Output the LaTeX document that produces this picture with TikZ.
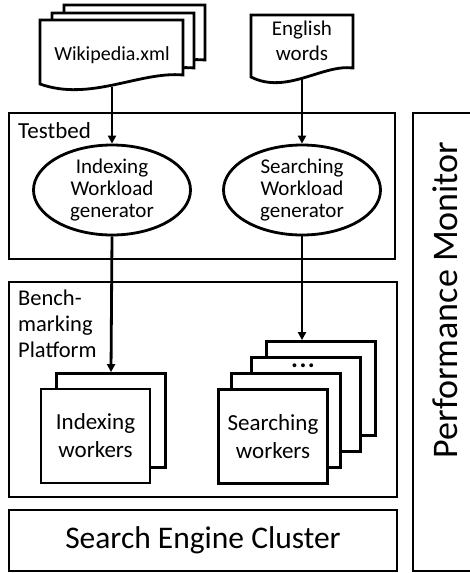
\documentclass[tikz,border=0pt]{standalone}
\usepackage{fontspec}
\setmainfont{Carlito}
\usetikzlibrary{arrows.meta,shapes.geometric}

\tikzset{
  frame/.style={draw, line width=2.8pt},
  worker/.style={draw, line width=2.8pt, fill=white, rectangle, minimum width=109pt,
    minimum height=94pt, inner sep=0pt, align=center,
    font=\fontsize{23}{28}\selectfont},
  gen/.style={draw, line width=2.8pt, ellipse, minimum width=157pt, minimum height=90pt,
    inner sep=0pt, align=center, font=\fontsize{21}{22}\selectfont},
  label/.style={anchor=north west, inner sep=0pt, align=left},
  flow/.style={line width=2.8pt, -{Triangle[length=8pt,width=8pt]}},
}

% document symbol with wavy bottom edge: #1 = left, #2 = top, #3 = right,
% #4 = bottom-left y, #5 = bottom-right y
\newcommand{\docshape}[5]{%
  \draw[frame, fill=white, line join=miter]
    (#1,#4) -- (#1,#2) -- (#3,#2) -- (#3,#5)
    .. controls ({#3-0.3*(#3-#1)},{#5-4}) and ({#1+0.35*(#3-#1)},{#4+18}) .. (#1,#4) -- cycle;}

\begin{document}
\begin{tikzpicture}[x=1pt, y=-1pt]
  \useasboundingbox (0,0) rectangle (470,573);

  % outer frames
  \draw[frame] (9,113) rectangle (395,259);
  \draw[frame] (9,282) rectangle (397,497);
  \draw[frame] (413,113) rectangle (480,571);
  \node[draw, line width=2.8pt, minimum width=388pt, minimum height=61pt, inner sep=0pt,
        font=\fontsize{31.5}{32}\selectfont] (cluster) at (203,540.5) {Search Engine Cluster};
  \node[rotate=90, inner sep=0pt, font=\fontsize{36}{36}\selectfont] (monitor) at (445,300)
        {Performance Monitor};

  \node[label, font=\fontsize{23}{26}\selectfont] (testbed) at (18,122) {Testbed};
  \node[label, font=\fontsize{22.5}{26}\selectfont] (bench) at (18,290) {Bench-\\marking\\Platform};

  % input documents
  \docshape{64}{5}{205}{68}{60}
  \docshape{52}{13}{194}{76}{68}
  \docshape{40}{20}{183}{84}{75}
  \node[inner sep=0pt, font=\fontsize{20}{22}\selectfont] (wiki) at (112,55) {Wikipedia.xml};
  \coordinate (wikiout) at (112,87);

  \docshape{251}{15}{353}{77}{68}
  \node[inner sep=0pt, align=center, font=\fontsize{21}{25}\selectfont] (english) at (302,41)
        {English\\words};
  \coordinate (englishout) at (302,78);

  % workload generators
  \node[gen] (igen) at (112,190) {Indexing\\Workload\\generator};
  \node[gen] (sgen) at (302,190) {Searching\\Workload\\generator};

  % workers
  \node[worker] (iwork2) at (111,420.5) {};
  \node[worker] (iwork) at (95.5,436) {Indexing\\workers};

  \node[worker] (swork4) at (321,388.5) {};
  \node[worker] (swork3) at (306,404.5) {};
  \node[inner sep=0pt, font=\bfseries\fontsize{26}{26}\selectfont] (dots) at (303,366)
        {.\hspace{1.5pt}.\hspace{1.5pt}.};
  \node[worker] (swork2) at (286,420.5) {};
  \node[worker] (swork) at (273,436.5) {Searching\\workers};

  % data flow
  \draw[flow] (wikiout) -- (igen.north);
  \draw[flow] (englishout) -- (sgen.north);
  \draw[flow] (igen.south) -- (iwork2.north);
  \draw[flow] (sgen.south) -- (swork4.north -| sgen.south);
\end{tikzpicture}
\end{document}
